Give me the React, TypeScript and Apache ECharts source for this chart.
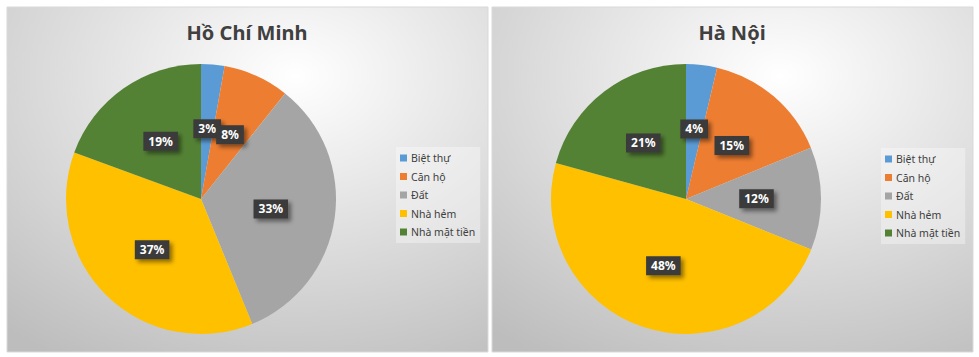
import React, { useEffect, useRef } from "react";
import * as echarts from "echarts";

const categories = ["Biệt thự", "Căn hộ", "Đất", "Nhà hẻm", "Nhà mặt tiền"];
const hcmValues = [2.8, 7.9, 33.1, 36.8, 19.4];
const hnValues = [3.7, 15.1, 12.3, 48.2, 20.7];
const titles = ["Hồ Chí Minh", "Hà Nội"];
const colors = ["#5b9bd5", "#ed7d31", "#a5a5a5", "#ffc000", "#548235"];

const FONT = "'Noto Sans', 'DejaVu Sans', sans-serif";

export default function App() {
  const ref = useRef<HTMLDivElement>(null);
  useEffect(() => {
    if (!ref.current) return;
    const chart = echarts.init(ref.current, null, { renderer: "svg" });
    const bg = new echarts.graphic.RadialGradient(0.6, 0.2, 0.95, [
      { offset: 0, color: "#ffffff" },
      { offset: 1, color: "#bdbdbd" },
    ]);
    const panel = (x: number, w: number) => ({
      type: "rect",
      shape: { x, y: 7, width: w, height: 345 },
      style: { fill: bg, stroke: "#d9d9d9", lineWidth: 1 },
      z: -10,
    });
    const label = {
      show: true,
      position: "inside",
      formatter: "{d}%",
      color: "#ffffff",
      fontFamily: FONT,
      fontWeight: "bold",
      fontSize: 12,
      backgroundColor: "#3b3b3b",
      padding: [4, 5, 3, 5],
      shadowColor: "rgba(0,0,0,0.45)",
      shadowBlur: 4,
      shadowOffsetX: 3,
      shadowOffsetY: 3,
    };
    const mkSeries = (vals: number[], cx: number) => ({
      type: "pie",
      radius: 135,
      center: [cx, 199],
      startAngle: 90,
      clockwise: true,
      percentPrecision: 0,
      avoidLabelOverlap: false,
      labelLayout: { hideOverlap: false },
      label,
      labelLine: { show: false },
      emphasis: { disabled: true },
      itemStyle: { borderWidth: 0 },
      data: vals.map((v, i) => ({ name: categories[i], value: v })),
    });
    const legendBase = {
      orient: "vertical",
      icon: "rect",
      itemWidth: 7,
      itemHeight: 7,
      itemGap: 6.5,
      backgroundColor: "rgba(255,255,255,0.35)",
      padding: [5, 5, 5, 4],
      textStyle: {
        fontFamily: FONT,
        fontSize: 10.5,
        lineHeight: 12,
        color: "#404040",
        padding: [0, 0, 0, -1],
      },
      data: categories,
    };
    chart.setOption({
      animation: false,
      color: colors,
      graphic: [panel(7, 481), panel(492, 481)],
      title: [
        {
          text: titles[0],
          left: 242,
          top: 17,
          textAlign: "center",
          textStyle: { fontFamily: FONT, fontSize: 20, fontWeight: "bold", color: "#404040" },
        },
        {
          text: titles[1],
          left: 727,
          top: 17,
          textAlign: "center",
          textStyle: { fontFamily: FONT, fontSize: 20, fontWeight: "bold", color: "#404040" },
        },
      ],
      legend: [
        { ...legendBase, left: 396, top: 147 },
        { ...legendBase, left: 881, top: 148 },
      ],
      series: [
        { ...mkSeries(hcmValues, 201) },
        { ...mkSeries(hnValues, 686) },
      ],
    });
    return () => chart.dispose();
  }, []);
  return (
    <div
      ref={ref}
      style={{ position: "fixed", left: 0, top: 0, width: 979, height: 357, background: "#ffffff" }}
    />
  );
}
